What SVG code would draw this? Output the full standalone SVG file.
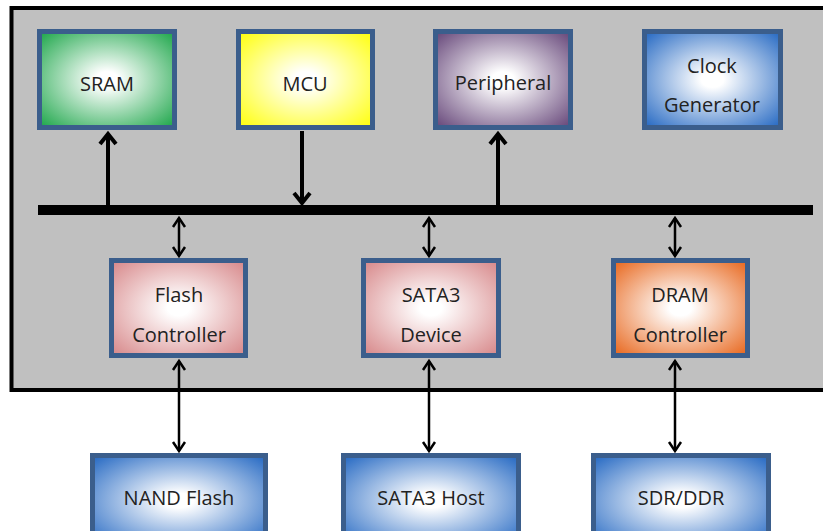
<svg xmlns="http://www.w3.org/2000/svg" width="823" height="531" viewBox="0 0 823 531">
<defs>
<style>
.box{stroke:#3b5e8c;stroke-width:5}
.t{font-family:"Open Sans","Noto Sans","Liberation Sans",sans-serif;font-size:20px;fill:#222;text-anchor:middle}
.thick{stroke:#000;stroke-width:4;fill:none}
.thin{stroke:#000;stroke-width:2.5;fill:none}
</style>
<radialGradient id="gGreen" cx="0.5" cy="0.5" r="0.68"><stop offset="0" stop-color="#fff"/><stop offset="0.12" stop-color="#fff"/><stop offset="1" stop-color="#22a84e"/></radialGradient>
<radialGradient id="gYellow" cx="0.5" cy="0.5" r="0.68"><stop offset="0" stop-color="#fff"/><stop offset="0.12" stop-color="#fff"/><stop offset="1" stop-color="#ffff10"/></radialGradient>
<radialGradient id="gPurple" cx="0.5" cy="0.5" r="0.68"><stop offset="0" stop-color="#fff"/><stop offset="0.12" stop-color="#fff"/><stop offset="1" stop-color="#694a7c"/></radialGradient>
<radialGradient id="gBlue" cx="0.5" cy="0.5" r="0.68"><stop offset="0" stop-color="#fff"/><stop offset="0.12" stop-color="#fff"/><stop offset="1" stop-color="#2a6cc4"/></radialGradient>
<radialGradient id="gPink" cx="0.5" cy="0.5" r="0.68"><stop offset="0" stop-color="#fff"/><stop offset="0.12" stop-color="#fff"/><stop offset="1" stop-color="#d88a8c"/></radialGradient>
<radialGradient id="gOrange" cx="0.5" cy="0.5" r="0.68"><stop offset="0" stop-color="#fff"/><stop offset="0.12" stop-color="#fff"/><stop offset="1" stop-color="#e86a22"/></radialGradient>
<marker id="ahThick" markerUnits="userSpaceOnUse" markerWidth="30" markerHeight="30" viewBox="-15 -15 30 30" refX="0" refY="0" orient="auto-start-reverse" overflow="visible">
<path d="M-10,-8 L0,0 L-10,8" fill="none" stroke="#000" stroke-width="4"/>
</marker>
<marker id="ahThin" markerUnits="userSpaceOnUse" markerWidth="30" markerHeight="30" viewBox="-15 -15 30 30" refX="0" refY="0" orient="auto-start-reverse" overflow="visible">
<path d="M-9,-6 L0,0 L-9,6" fill="none" stroke="#000" stroke-width="2.5"/>
</marker>
</defs>
<rect width="823" height="531" fill="#fff"/>
<g id="container">
<rect x="11.5" y="8" width="830" height="382" fill="#c0c0c0" stroke="#000" stroke-width="4"/>
</g>
<g id="bus">
<rect x="38" y="205" width="775" height="10" fill="#000"/>
</g>
<g id="sram"><rect class="box" x="39.5" y="31.5" width="135" height="96" fill="url(#gGreen)"/><text class="t" x="107" y="91">SRAM</text></g>
<g id="mcu"><rect class="box" x="238.5" y="31.5" width="134" height="96" fill="url(#gYellow)"/><text class="t" x="305" y="91">MCU</text></g>
<g id="peripheral"><rect class="box" x="435.5" y="31.5" width="135" height="96" fill="url(#gPurple)"/><text class="t" x="503" y="90">Peripheral</text></g>
<g id="clock"><rect class="box" x="644.5" y="31.5" width="136" height="96" fill="url(#gBlue)"/><text class="t" x="712" y="73">Clock</text><text class="t" x="712" y="112">Generator</text></g>
<g id="flashctrl"><rect class="box" x="111.5" y="260.5" width="134" height="95" fill="url(#gPink)"/><text class="t" x="179" y="302">Flash</text><text class="t" x="179" y="342">Controller</text></g>
<g id="sata3dev"><rect class="box" x="363.5" y="260.5" width="135" height="95" fill="url(#gPink)"/><text class="t" x="431" y="302">SATA3</text><text class="t" x="431" y="342">Device</text></g>
<g id="dramctrl"><rect class="box" x="613.5" y="260.5" width="134" height="95" fill="url(#gOrange)"/><text class="t" x="680" y="302">DRAM</text><text class="t" x="680" y="342">Controller</text></g>
<g id="nand"><rect class="box" x="92.5" y="455.5" width="173" height="90" fill="url(#gBlue)"/><text class="t" x="179" y="505">NAND Flash</text></g>
<g id="sata3host"><rect class="box" x="343.5" y="455.5" width="175" height="90" fill="url(#gBlue)"/><text class="t" x="431" y="505">SATA3 Host</text></g>
<g id="sdrddr"><rect class="box" x="593.5" y="455.5" width="175" height="90" fill="url(#gBlue)"/><text class="t" x="681" y="505">SDR/DDR</text></g>
<g id="connectors">
<line class="thick" x1="108" y1="206" x2="108" y2="134" marker-end="url(#ahThick)"/>
<line class="thick" x1="302" y1="131" x2="302" y2="203" marker-end="url(#ahThick)"/>
<line class="thick" x1="498" y1="206" x2="498" y2="134" marker-end="url(#ahThick)"/>
<line class="thin" x1="179" y1="218" x2="179" y2="256" marker-start="url(#ahThin)" marker-end="url(#ahThin)"/>
<line class="thin" x1="429" y1="218" x2="429" y2="256" marker-start="url(#ahThin)" marker-end="url(#ahThin)"/>
<line class="thin" x1="675" y1="218" x2="675" y2="256" marker-start="url(#ahThin)" marker-end="url(#ahThin)"/>
<line class="thin" x1="179" y1="361" x2="179" y2="451" marker-start="url(#ahThin)" marker-end="url(#ahThin)"/>
<line class="thin" x1="429" y1="361" x2="429" y2="451" marker-start="url(#ahThin)" marker-end="url(#ahThin)"/>
<line class="thin" x1="675" y1="361" x2="675" y2="451" marker-start="url(#ahThin)" marker-end="url(#ahThin)"/>
</g>
</svg>
